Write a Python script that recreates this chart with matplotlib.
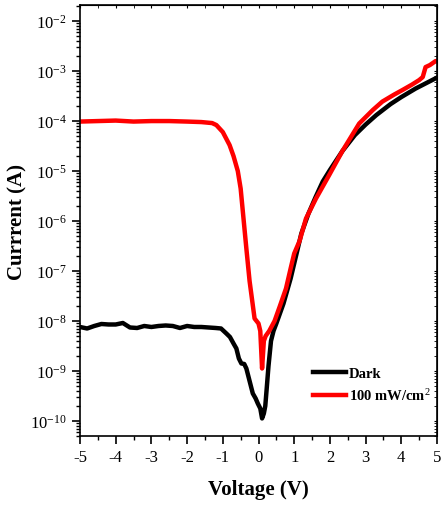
import numpy as np
import matplotlib
matplotlib.use("Agg")
import matplotlib.pyplot as plt
from matplotlib.ticker import LogLocator, MultipleLocator, LogFormatterMathtext

plt.rcParams["font.family"] = ["Liberation Serif", "DejaVu Serif"]
plt.rcParams["mathtext.fontset"] = "custom"
plt.rcParams["mathtext.rm"] = "Liberation Serif"
plt.rcParams["mathtext.it"] = "Liberation Serif:italic"
plt.rcParams["mathtext.bf"] = "Liberation Serif:bold"

# Dark curve (voltage in V, log10 of current in A)
dark_v = [-5.0, -4.8, -4.6, -4.4, -4.2, -4.0, -3.8, -3.6, -3.4, -3.2, -3.0, -2.8,
          -2.6, -2.4, -2.2, -2.0, -1.8, -1.6, -1.4, -1.2, -1.05, -0.9, -0.8, -0.7,
          -0.62, -0.55, -0.48, -0.4, -0.34, -0.25, -0.16, -0.08, -0.02, 0.05, 0.1,
          0.15, 0.19, 0.23, 0.28, 0.35, 0.42, 0.5, 0.6, 0.7, 0.8, 0.9, 1.0, 1.2,
          1.4, 1.6, 1.8, 2.0, 2.35, 2.7, 3.0, 3.3, 3.7, 4.0, 4.4, 4.7, 5.0]
dark_log = [-8.12, -8.15, -8.1, -8.06, -8.07, -8.07, -8.04, -8.13, -8.14, -8.1, -8.12, -8.1,
            -8.09, -8.1, -8.14, -8.1, -8.12, -8.12, -8.13, -8.14, -8.15, -8.25, -8.32, -8.45,
            -8.55, -8.75, -8.85, -8.86, -8.95, -9.2, -9.45, -9.55, -9.65, -9.75, -9.95,
            -9.85, -9.7, -9.35, -8.9, -8.4, -8.2, -8.05, -7.85, -7.65, -7.4, -7.15, -6.85, -6.25,
            -5.85, -5.52, -5.21, -4.98, -4.6, -4.28, -4.07, -3.88, -3.66, -3.52, -3.35, -3.24, -3.13]

# Illuminated curve, 100 mW/cm2
light_v = [-5.0, -4.5, -4.0, -3.5, -3.0, -2.5, -2.0, -1.6, -1.3, -1.18, -1.0, -0.81,
           -0.7, -0.58, -0.5, -0.44, -0.34, -0.25, -0.11, 0.0, 0.05, 0.1, 0.15, 0.2,
           0.3, 0.45, 0.6, 0.77, 0.9, 1.0, 1.15, 1.33, 1.61, 1.98, 2.35, 2.82, 3.2,
           3.47, 3.8, 4.03, 4.3, 4.5, 4.6, 4.68, 4.8, 4.96, 5.0]
light_log = [-4.01, -4.0, -3.99, -4.01, -4.0, -4.0, -4.01, -4.02, -4.04, -4.08, -4.22, -4.48,
             -4.7, -5.0, -5.35, -5.8, -6.55, -7.2, -7.95, -8.05, -8.2, -8.95, -8.4, -8.3,
             -8.2, -8.0, -7.7, -7.35, -6.95, -6.65, -6.4, -5.95, -5.55, -5.08, -4.6, -4.05, -3.78,
             -3.61, -3.47, -3.38, -3.27, -3.18, -3.12, -2.92, -2.88, -2.8, -2.8]

dark_i = 10 ** np.array(dark_log)
light_i = 10 ** np.array(light_log)

fig = plt.figure(figsize=(4.41, 5.06), dpi=100)
ax = fig.add_axes([80 / 441, 1 - 437 / 506, 357 / 441, 431 / 506])

ax.plot(dark_v, dark_i, color="black", lw=3.2, label="Dark", solid_joinstyle="round")
ax.plot(light_v, light_i, color="red", lw=3.2, label="100 mW/cm$^2$", solid_joinstyle="round")

ax.set_yscale("log")
ax.set_xlim(-5, 5)
ax.set_ylim(5e-11, 2.1e-2)

ax.xaxis.set_major_locator(MultipleLocator(1))
ax.xaxis.set_minor_locator(MultipleLocator(0.5))
ax.yaxis.set_major_locator(LogLocator(base=10, numticks=20))
ax.yaxis.set_minor_locator(LogLocator(base=10, subs=np.arange(2, 10), numticks=20))
ax.yaxis.set_major_formatter(LogFormatterMathtext())
ax.xaxis.set_major_formatter(plt.FuncFormatter(lambda v, p: f"{v:.0f}"))

ax.tick_params(axis="both", which="major", direction="out", length=6, width=1.2, labelsize=12)
ax.tick_params(axis="both", which="minor", direction="out", length=3, width=1)

# small inward ticks on top and right edges
ax_top = ax.secondary_xaxis("top")
ax_top.xaxis.set_major_locator(MultipleLocator(1))
ax_top.xaxis.set_minor_locator(MultipleLocator(0.5))
ax_top.tick_params(which="both", direction="in", length=2, labeltop=False)
ax_right = ax.secondary_yaxis("right")
ax_right.yaxis.set_major_locator(LogLocator(base=10, numticks=20))
ax_right.yaxis.set_minor_locator(LogLocator(base=10, subs=np.arange(2, 10), numticks=20))
ax_right.tick_params(which="both", direction="in", length=2, labelright=False)

for s in ax.spines.values():
    s.set_linewidth(1.2)

ax.set_xlabel("Voltage (V)", fontsize=15, fontweight="bold", labelpad=10)
ax.set_ylabel("Currrent (A)", fontsize=15, fontweight="bold")
ax.yaxis.set_label_coords(-0.146, 0.5)

ax.legend(loc="lower right", frameon=False, prop={"weight": "bold", "size": 10.5},
          handlelength=2.3, handletextpad=0.2, labelspacing=0.5,
          bbox_to_anchor=(1.02, 0.045))

fig.savefig("out.png", dpi=100)
